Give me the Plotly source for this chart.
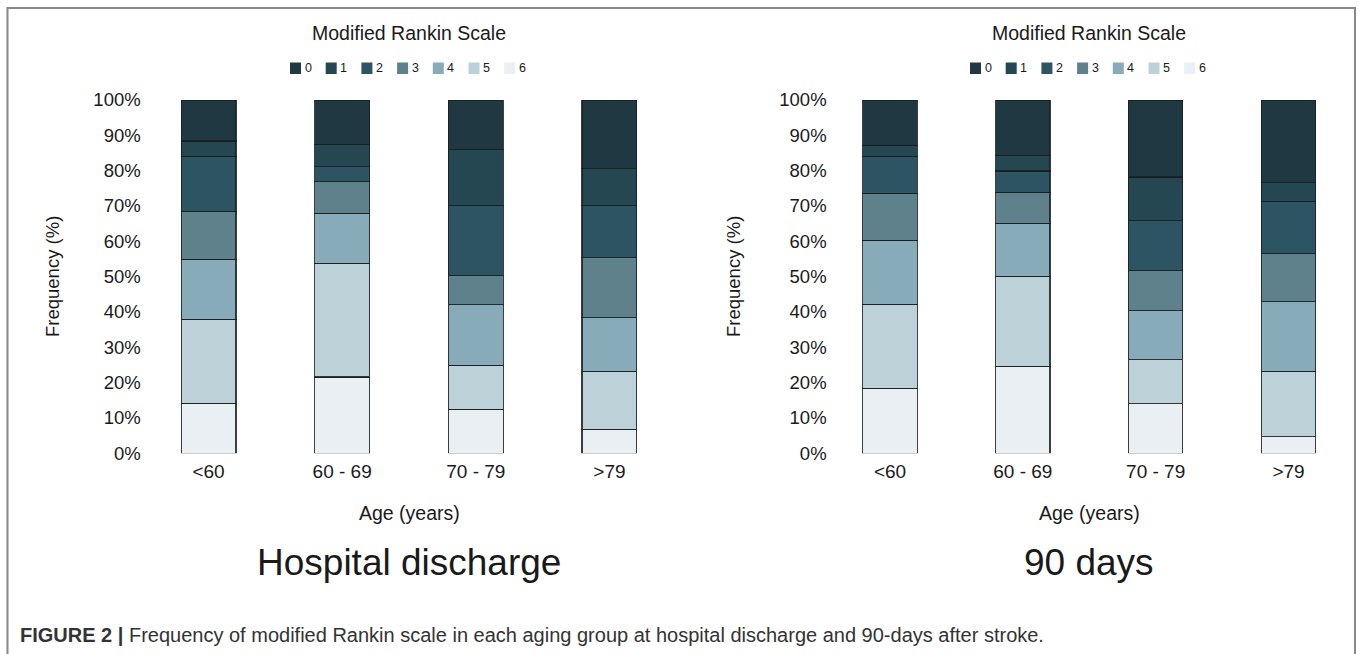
import plotly.graph_objects as go

W, H = 1358, 654

age_groups = ["<60", "60 - 69", "70 - 79", ">79"]
mrs_levels = ["0", "1", "2", "3", "4", "5", "6"]
colors = ["#1f3841", "#254751", "#2d5463", "#5e818b", "#87abb9", "#bdd1d9", "#e9eff3"]
y_ticks = [0, 10, 20, 30, 40, 50, 60, 70, 80, 90, 100]

# Frequency (%) of mRS 0..6 per age group, hospital discharge
discharge_lt60 = [11.6, 4.3, 15.6, 13.6, 17.0, 23.7, 14.2]
discharge_60_69 = [12.5, 6.4, 4.2, 9.0, 14.1, 32.2, 21.6]
discharge_70_79 = [13.9, 15.9, 19.9, 8.2, 17.2, 12.4, 12.5]
discharge_gt79 = [19.5, 10.3, 14.8, 17.0, 15.2, 16.4, 6.8]

# Frequency (%) of mRS 0..6 per age group, 90 days
day90_lt60 = [12.8, 3.1, 10.5, 13.3, 18.1, 23.8, 18.4]
day90_60_69 = [15.7, 4.4, 6.0, 8.8, 15.0, 25.5, 24.6]
day90_70_79 = [21.8, 12.4, 14.1, 11.3, 13.9, 12.5, 14.0]
day90_gt79 = [23.4, 5.3, 14.8, 13.6, 19.7, 18.5, 4.7]

panels = [
    ("x", "y", [discharge_lt60, discharge_60_69, discharge_70_79, discharge_gt79]),
    ("x2", "y2", [day90_lt60, day90_60_69, day90_70_79, day90_gt79]),
]

fig = go.Figure()
for xa, ya, groups in panels:
    for lvl in range(6, -1, -1):
        fig.add_trace(go.Bar(
            x=age_groups,
            y=[g[lvl] for g in groups],
            name=mrs_levels[lvl],
            xaxis=xa, yaxis=ya,
            showlegend=False,
            width=0.41,
            marker=dict(color=colors[lvl], line=dict(color="rgba(25,30,32,0.85)", width=1.2)),
            hoverinfo="skip",
        ))

def px(v):
    return v / W

def py(v):
    return (H - v) / H

FONT = "Liberation Sans, Arial, sans-serif"

y_dom = [py(453.3), py(100)]
axis_common = dict(showgrid=False, zeroline=False, showline=False)
ytick_text = [f"{v}%" for v in y_ticks]

fig.update_layout(
    width=W, height=H,
    margin=dict(l=0, r=0, t=0, b=0, autoexpand=False),
    paper_bgcolor="white", plot_bgcolor="white",
    barmode="stack",
    font=dict(family=FONT, color="#1a1a1a"),
    xaxis=dict(domain=[px(141.7), px(676.3)], range=[-0.5, 3.5], anchor="y",
               ticks="outside", ticklen=1, tickcolor="rgba(0,0,0,0)",
               tickfont=dict(size=19), **axis_common),
    yaxis=dict(domain=y_dom, range=[0, 100], anchor="x", tickmode="array",
               tickvals=y_ticks, ticktext=ytick_text, ticks="",
               tickfont=dict(size=18.5), **axis_common),
    xaxis2=dict(domain=[px(827.6), px(1354.9)], range=[-0.47, 3.5], anchor="y2",
                ticks="outside", ticklen=1, tickcolor="rgba(0,0,0,0)",
                tickfont=dict(size=19), **axis_common),
    yaxis2=dict(domain=y_dom, range=[0, 100], anchor="x2", tickmode="array",
                tickvals=y_ticks, ticktext=ytick_text, ticks="",
                tickfont=dict(size=18.5), **axis_common),
    showlegend=False,
)

annotations = []
shapes = []
for cx, big, leg_x in [(409, "Hospital discharge", 290), (1089, "90 days", 970)]:
    annotations.append(dict(text="Modified Rankin Scale", x=px(cx), y=py(33), xref="paper", yref="paper",
                            showarrow=False, xanchor="center", yanchor="middle", font=dict(size=19.5)))
    annotations.append(dict(text="Age (years)", x=px(cx), y=py(513), xref="paper", yref="paper",
                            showarrow=False, xanchor="center", yanchor="middle", font=dict(size=19.5)))
    annotations.append(dict(text=big, x=px(cx), y=py(562), xref="paper", yref="paper",
                            showarrow=False, xanchor="center", yanchor="middle", font=dict(size=37)))
    # legend ("Modified Rankin Scale" key) built from the level names and colours
    for i, (lab, col) in enumerate(zip(mrs_levels, colors)):
        x0 = leg_x + i * 35.7
        shapes.append(dict(type="rect", xref="paper", yref="paper",
                           x0=px(x0), x1=px(x0 + 11), y0=py(74), y1=py(62.5),
                           fillcolor=col, line=dict(width=0)))
        annotations.append(dict(text=lab, x=px(x0 + 12.5), y=py(68.5), xref="paper", yref="paper",
                                showarrow=False, xanchor="left", yanchor="middle",
                                font=dict(size=12.5)))
for cx in [52, 733]:
    annotations.append(dict(text="Frequency (%)", x=px(cx), y=py(277), xref="paper", yref="paper",
                            showarrow=False, xanchor="center", yanchor="middle", textangle=-90,
                            font=dict(size=18.5)))
annotations.append(dict(
    text="<b>FIGURE 2 |</b> Frequency of modified Rankin scale in each aging group at hospital discharge and 90-days after stroke.",
    x=px(18), y=py(635), xref="paper", yref="paper", showarrow=False,
    xanchor="left", yanchor="middle", font=dict(size=20, color="#333333",
                                               family="Liberation Sans Narrow, Liberation Sans, Arial")))

shapes.append(dict(type="path", xref="paper", yref="paper",
                   path=f"M {px(7.5)},{py(660)} L {px(7.5)},{py(8)} L {px(1355)},{py(8)} L {px(1355)},{py(660)}",
                   line=dict(color="#888888", width=2)))
fig.update_layout(annotations=annotations, shapes=shapes)

fig.write_html("out.html")
